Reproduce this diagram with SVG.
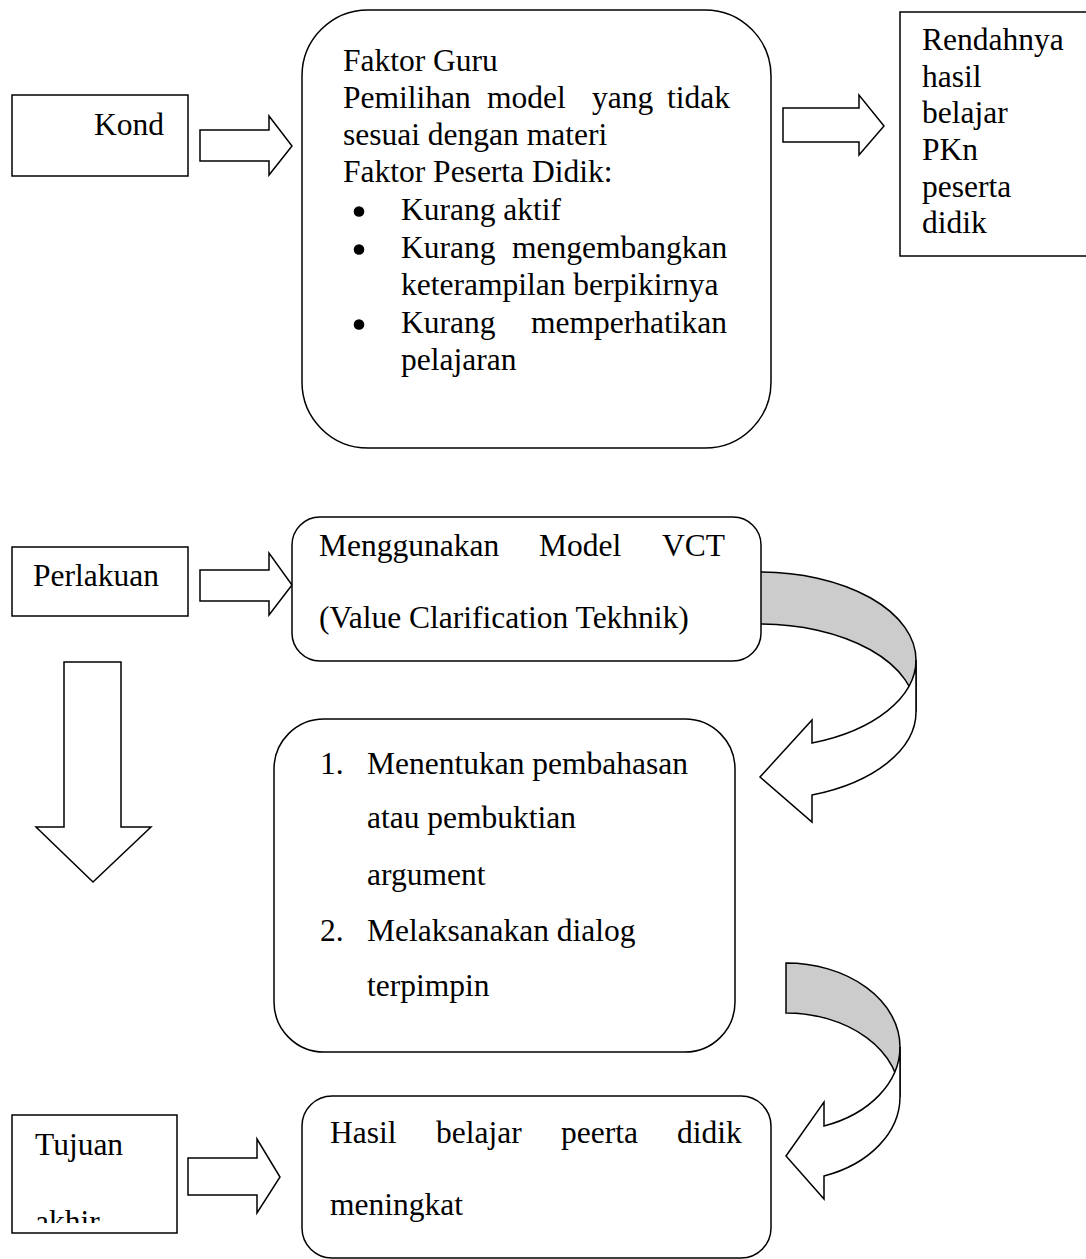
<svg xmlns="http://www.w3.org/2000/svg" width="1086" height="1259" viewBox="0 0 1086 1259">
<defs>
<style>
.box{fill:#fff;stroke:#000;stroke-width:1.5}
.arr{fill:#fff;stroke:#000;stroke-width:1.5;stroke-linejoin:miter}
.band{fill:#cccccc;stroke:#000;stroke-width:1.5}
.bul{fill:#000}
text{font-family:"Liberation Serif","Times New Roman",serif;font-size:31.5px;fill:#000}
</style>
<clipPath id="clipTujuan"><rect x="12" y="1115" width="165" height="108"/></clipPath>
</defs>
<rect width="1086" height="1259" fill="#fff"/>

<g id="connectors">
<path class="arr" d="M200,130 H269 V116 L292,146 L269,175 V161 H200 Z"/>
<path class="arr" d="M783,108 H859 V95 L884,126 L859,155 V142 H783 Z"/>
<path class="arr" d="M200,570 H269 V553 L292,585 L269,615 V601 H200 Z"/>
<path class="arr" d="M64,662 H121 V827 H151 L93,882 L36,827 H64 Z"/>
<path class="arr" d="M188,1158 H257 V1139 L280,1177 L257,1213 V1195 H188 Z"/>
<g id="curved1">
<path class="band" d="M760,572 A156,88 0 0 1 916,660 L916,712 A156,88 0 0 0 760,624 Z"/>
<path class="arr" d="M916,660 A156,88 0 0 1 812,743 L812,720 L760,777 L812,822 L812,795 A156,88 0 0 0 916,712 Z"/>
</g>
<g id="curved2">
<path class="band" d="M786,963 A114,84 0 0 1 900,1047 L900,1097 A114,84 0 0 0 786,1013 Z"/>
<path class="arr" d="M900,1047 A114,84 0 0 1 824,1126 L824,1102 L786,1156 L824,1199 L824,1176 A114,84 0 0 0 900,1097 Z"/>
</g>
</g>

<g id="kond">
<rect class="box" x="12" y="95" width="176" height="81"/>
<text x="94" y="135">Kond</text>
</g>

<g id="faktor">
<rect class="box" x="302" y="10" width="469" height="438" rx="66" ry="66"/>
<text x="343" y="71">Faktor Guru</text>
<text y="108"><tspan x="343">Pemilihan</tspan><tspan x="487">model</tspan><tspan x="592">yang</tspan><tspan x="667">tidak</tspan></text>
<text x="343" y="145">sesuai dengan materi</text>
<text x="343" y="182">Faktor Peserta Didik:</text>
<circle class="bul" cx="359" cy="211.5" r="5.3"/>
<text x="401" y="220">Kurang aktif</text>
<circle class="bul" cx="359" cy="249.5" r="5.3"/>
<text y="258"><tspan x="401">Kurang</tspan><tspan x="512">mengembangkan</tspan></text>
<text x="401" y="295">keterampilan berpikirnya</text>
<circle class="bul" cx="359" cy="324.5" r="5.3"/>
<text y="333"><tspan x="401">Kurang</tspan><tspan x="531">memperhatikan</tspan></text>
<text x="401" y="370">pelajaran</text>
</g>

<g id="rendahnya">
<rect class="box" x="900" y="12" width="200" height="244"/>
<text x="922" y="50">Rendahnya</text>
<text x="922" y="87">hasil</text>
<text x="922" y="123">belajar</text>
<text x="922" y="160">PKn</text>
<text x="922" y="197">peserta</text>
<text x="922" y="233">didik</text>
</g>

<g id="perlakuan">
<rect class="box" x="12" y="547" width="176" height="69"/>
<text x="33" y="586">Perlakuan</text>
</g>

<g id="vct">
<rect class="box" x="292" y="517" width="469" height="144" rx="28" ry="28"/>
<text y="556"><tspan x="319">Menggunakan</tspan><tspan x="539">Model</tspan><tspan x="662">VCT</tspan></text>
<text x="319" y="628">(Value Clarification Tekhnik)</text>
</g>

<g id="langkah">
<rect class="box" x="274" y="719" width="461" height="333" rx="50" ry="50"/>
<text x="320" y="774">1.</text>
<text x="367" y="774">Menentukan pembahasan</text>
<text x="367" y="828">atau pembuktian</text>
<text x="367" y="885">argument</text>
<text x="320" y="941">2.</text>
<text x="367" y="941">Melaksanakan dialog</text>
<text x="367" y="996">terpimpin</text>
</g>

<g id="tujuan">
<rect class="box" x="12" y="1115" width="165" height="118"/>
<text x="35" y="1155">Tujuan</text>
<text x="35" y="1232" clip-path="url(#clipTujuan)">akhir</text>
</g>

<g id="hasil">
<rect class="box" x="302" y="1096" width="469" height="162" rx="30" ry="30"/>
<text y="1143"><tspan x="330">Hasil</tspan><tspan x="436">belajar</tspan><tspan x="561">peerta</tspan><tspan x="677">didik</tspan></text>
<text x="330" y="1215">meningkat</text>
</g>
</svg>
